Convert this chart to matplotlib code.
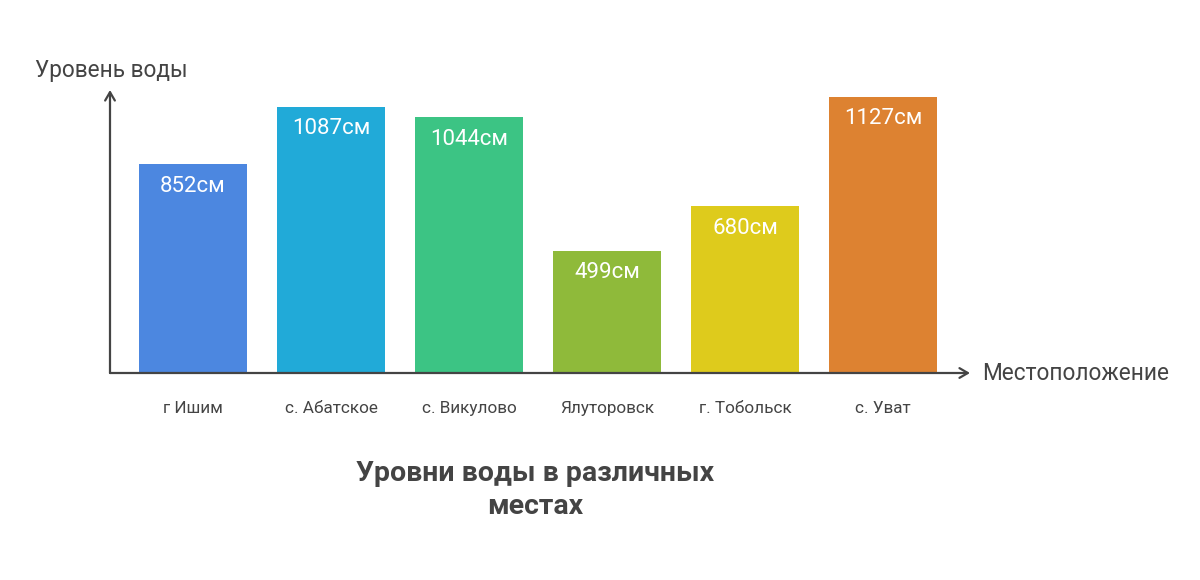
import matplotlib
matplotlib.use("Agg")
import matplotlib.pyplot as plt

categories = ["г Ишим", "с. Абатское", "с. Викулово", "Ялуторовск", "г. Тобольск", "с. Уват"]
values = [852, 1087, 1044, 499, 680, 1127]
value_labels = ["852см", "1087см", "1044см", "499см", "680см", "1127см"]
colors = ["#4C87E0", "#21AAD8", "#3CC484", "#8FBA3A", "#DECB1C", "#DD8231"]
y_label = "Уровень воды"
x_label = "Местоположение"
title = "Уровни воды в различных\nместах"

plt.rcParams['font.family'] = ['Roboto', 'DejaVu Sans']
W, H = 1200, 580
fig = plt.figure(figsize=(W / 100, H / 100), dpi=100)
fig.patch.set_facecolor("white")

ax_left, ax_right = 110, 970
ax_bottom, ax_top = 373, 90
ax = fig.add_axes([ax_left / W, (H - ax_bottom) / H, (ax_right - ax_left) / W, (ax_bottom - ax_top) / H])
ax.set_facecolor("none")

xs = list(range(len(categories)))
ax.bar(xs, values, width=0.783, color=colors, zorder=2)
ax.set_xlim(-0.601, 5.630)
ax.set_ylim(0, 1155)

for x, v, lab in zip(xs, values, value_labels):
    ax.annotate(lab, (x, v), xytext=(0, -22), textcoords="offset pixels",
                ha="center", va="center", color="white", fontsize=16, zorder=3)

for s in ax.spines.values():
    s.set_visible(False)
ax.set_yticks([])
ax.set_xticks(xs)
ax.set_xticklabels(categories, fontsize=12.3, color="#444444")
ax.tick_params(axis="x", length=0, pad=20)

arrow_kw = dict(arrowstyle="->,head_length=0.6,head_width=0.35", color="#444444", lw=1.6,
                shrinkA=0, shrinkB=0)
ax.annotate("", xy=(1.0, 0), xytext=(0, 0), xycoords="axes fraction", arrowprops=arrow_kw, zorder=4)
ax.annotate("", xy=(0, 1.0), xytext=(0, 0), xycoords="axes fraction", arrowprops=arrow_kw, zorder=4)

fig.text(35 / W, 1 - 70 / H, y_label, ha="left", va="center", fontsize=16.3, color="#444444")
fig.text(982 / W, 1 - 374 / H, x_label, ha="left", va="center", fontsize=16.3, color="#444444")
fig.text(535 / W, 1 - 490 / H, title, ha="center", va="center", fontsize=20.5, fontweight="bold",
         color="#444444", linespacing=1.3)

fig.savefig("out.png", dpi=100, facecolor="white")
